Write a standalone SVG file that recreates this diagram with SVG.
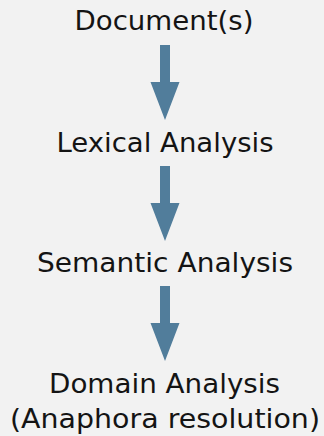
<svg xmlns="http://www.w3.org/2000/svg" width="324" height="436" viewBox="0 0 324 436">
<style>
text{font-family:"DejaVu Sans","Noto Sans",sans-serif;font-size:26px;fill:#141414;text-anchor:middle}
.arr{fill:#517d9b}
</style>
<defs>
<path id="arrow" class="arr" d="M-5,0 H5 V37 H14.5 L0,75 L-14.5,37 H-5 Z"/>
</defs>
<rect width="324" height="436" fill="#f2f2f2"/>
<g id="connectors">
<use href="#arrow" x="165" y="45"/>
<use href="#arrow" x="165" y="166"/>
<use href="#arrow" x="165" y="286"/>
</g>
<g id="node-document"><text x="164" y="30" textLength="179" lengthAdjust="spacingAndGlyphs">Document(s)</text></g>
<g id="node-lexical"><text x="165" y="152" textLength="217" lengthAdjust="spacingAndGlyphs">Lexical Analysis</text></g>
<g id="node-semantic"><text x="165" y="272" textLength="256" lengthAdjust="spacingAndGlyphs">Semantic Analysis</text></g>
<g id="node-domain">
<text x="164.5" y="393" textLength="231" lengthAdjust="spacingAndGlyphs">Domain Analysis</text>
<text x="165" y="428" textLength="310" lengthAdjust="spacingAndGlyphs">(Anaphora resolution)</text>
</g>
</svg>
